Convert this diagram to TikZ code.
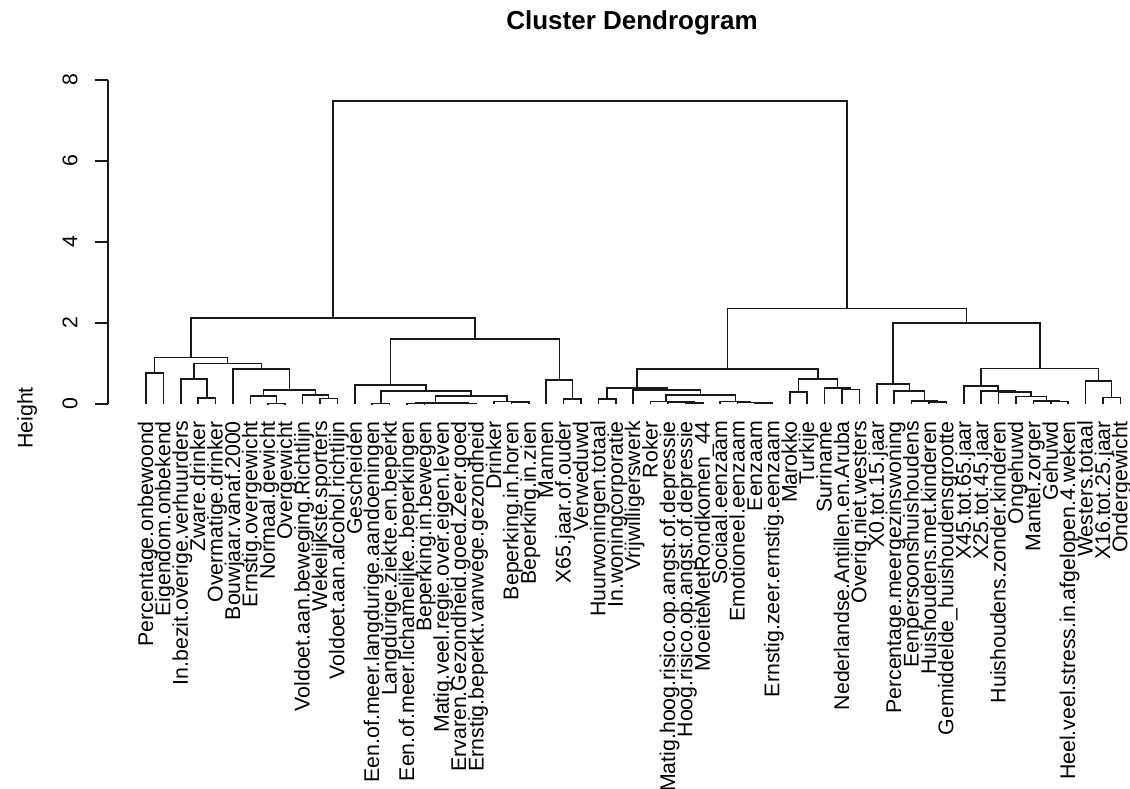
\documentclass[tikz,border=0pt]{standalone}
\usepackage{fontspec}
\setmainfont{Liberation Sans}
\usetikzlibrary{calc}
\tikzset{
  dend/.style={line width=1.5pt, draw=black!90},
  lab/.style={font=\fontsize{21.3pt}{25pt}\selectfont, inner sep=0pt, text=black},
}
\newcommand\mrg[4]{%
  \path let \p1=(#2), \p2=(#3) in ({(\x1+\x2)/2},{#4*40.5pt}) coordinate (#1);
  \draw[dend] (#2) |- (#1) -| (#3);
}
\begin{document}
\begin{tikzpicture}[x=1pt,y=1pt]
\useasboundingbox (0,-385) rectangle (1130,404);
% title
\node[font=\fontsize{26pt}{30pt}\selectfont\bfseries, inner sep=0pt] (title) at (632,381) {Cluster Dendrogram};
% axis
\draw[dend] (108,0) -- (108,324);
\foreach \v in {0,2,4,6,8}{
  \draw[dend] (95,{\v*40.5}) -- (108,{\v*40.5});
  \node[lab, rotate=90] (tk\v) at (70,{\v*40.5}) {\v};
}
\node[lab, rotate=90] (ylab) at (27,-14) {Height};
% leaves and labels
\foreach \t [count=\i] in {Percentage.onbewoond,Eigendom.onbekend,In.bezit.overige.verhuurders,Zware.drinker,Overmatige.drinker,Bouwjaar.vanaf.2000,Ernstig.overgewicht,Normaal.gewicht,Overgewicht,Voldoet.aan.beweging.Richtlijn,Wekelijkste.sporters,Voldoet.aan.alcohol.richtlijn,Gescheiden,Een.of.meer.langdurige.aandoeningen,Langdurige.ziekte.en.beperkt,Een.of.meer.lichamelijke..beperkingen,Beperking.in.bewegen,Matig.veel.regie.over.eigen.leven,Ervaren.Gezondheid.goed.Zeer.goed,Ernstig.beperkt.vanwege.gezondheid,Drinker,Beperking.in.horen,Beperking.in.zien,Mannen,X65.jaar.of.ouder,Verweduwd,Huurwoningen.totaal,In.woningcorporatie,Vrijwilligerswerk,Roker,Matig.hoog.risico.op.angst.of.depressie,Hoog.risico.op.angst.of.depressie,MoeiteMetRondkomen\_44,Sociaal.eenzaam,Emotioneel.eenzaam,Eenzaam,Ernstig.zeer.ernstig.eenzaam,Marokko,Turkije,Suriname,Nederlandse.Antillen.en.Aruba,Overig.niet.westers,X0.tot.15.jaar,Percentage.meergezinswoning,Eenpersoonshuishoudens,Huishoudens.met.kinderen,Gemiddelde\_huishoudensgrootte,X45.tot.65.jaar,X25.tot.45.jaar,Huishoudens.zonder.kinderen,Ongehuwd,Mantel.zorger,Gehuwd,Heel.veel.stress.in.afgelopen.4.weken,Westers.totaal,X16.tot.25.jaar,Ondergewicht}{
  \coordinate (L\i) at ({146+(\i-1)*17.4},0);
  \node[lab, rotate=90, anchor=base east] (t\i) at ({146+(\i-1)*17.4+7},-17) {\t};
}
% left cluster
\mrg{mAa}{L1}{L2}{0.76}
\mrg{mAb}{L4}{L5}{0.15}
\mrg{mAc}{L3}{mAb}{0.62}
\mrg{mAd}{L8}{L9}{0.01}
\mrg{mAe}{L7}{mAd}{0.2}
\mrg{mAf}{L11}{L12}{0.14}
\mrg{mAg}{L10}{mAf}{0.22}
\mrg{mAh}{mAe}{mAg}{0.35}
\mrg{mAi}{L6}{mAh}{0.87}
\mrg{mAj}{mAc}{mAi}{1.0}
\mrg{mAk}{mAa}{mAj}{1.15}
\mrg{mBa}{L14}{L15}{0.01}
\mrg{mBb}{L16}{L17}{0.01}
\mrg{mBc}{L19}{L20}{0.015}
\mrg{mBd}{L18}{mBc}{0.02}
\mrg{mBe}{mBb}{mBd}{0.03}
\mrg{mBf}{L22}{L23}{0.05}
\mrg{mBg}{L21}{mBf}{0.06}
\mrg{mBh}{mBe}{mBg}{0.2}
\mrg{mBi}{mBa}{mBh}{0.32}
\mrg{mBj}{L13}{mBi}{0.47}
\mrg{mBk}{L25}{L26}{0.12}
\mrg{mBl}{L24}{mBk}{0.59}
\mrg{mBm}{mBj}{mBl}{1.6}
\mrg{mL}{mAk}{mBm}{2.12}
% right cluster
\mrg{mCa}{L27}{L28}{0.12}
\mrg{mCb}{L32}{L33}{0.03}
\mrg{mCc}{L31}{mCb}{0.05}
\mrg{mCd}{L30}{mCc}{0.06}
\mrg{mCe}{L36}{L37}{0.02}
\mrg{mCf}{L35}{mCe}{0.04}
\mrg{mCg}{L34}{mCf}{0.06}
\mrg{mCh}{mCd}{mCg}{0.22}
\mrg{mCi}{L29}{mCh}{0.35}
\mrg{mCj}{mCa}{mCi}{0.39}
\mrg{mCk}{L38}{L39}{0.3}
\mrg{mCl}{L41}{L42}{0.36}
\mrg{mCm}{L40}{mCl}{0.39}
\mrg{mCn}{mCk}{mCm}{0.62}
\mrg{mCo}{mCj}{mCn}{0.86}
\mrg{mDa}{L46}{L47}{0.05}
\mrg{mDb}{L45}{mDa}{0.08}
\mrg{mDc}{L44}{mDb}{0.32}
\mrg{mDd}{L43}{mDc}{0.49}
\mrg{mDe}{L53}{L54}{0.06}
\mrg{mDf}{L52}{mDe}{0.07}
\mrg{mDg}{L51}{mDf}{0.18}
\mrg{mDh}{L50}{mDg}{0.3}
\mrg{mDi}{L49}{mDh}{0.32}
\mrg{mDj}{L48}{mDi}{0.44}
\mrg{mDk}{L56}{L57}{0.16}
\mrg{mDl}{L55}{mDk}{0.57}
\mrg{mDm}{mDj}{mDl}{0.88}
\mrg{mDn}{mDd}{mDm}{2.0}
\mrg{mR}{mCo}{mDn}{2.36}
\mrg{mRoot}{mL}{mR}{7.48}
\end{tikzpicture}
\end{document}
